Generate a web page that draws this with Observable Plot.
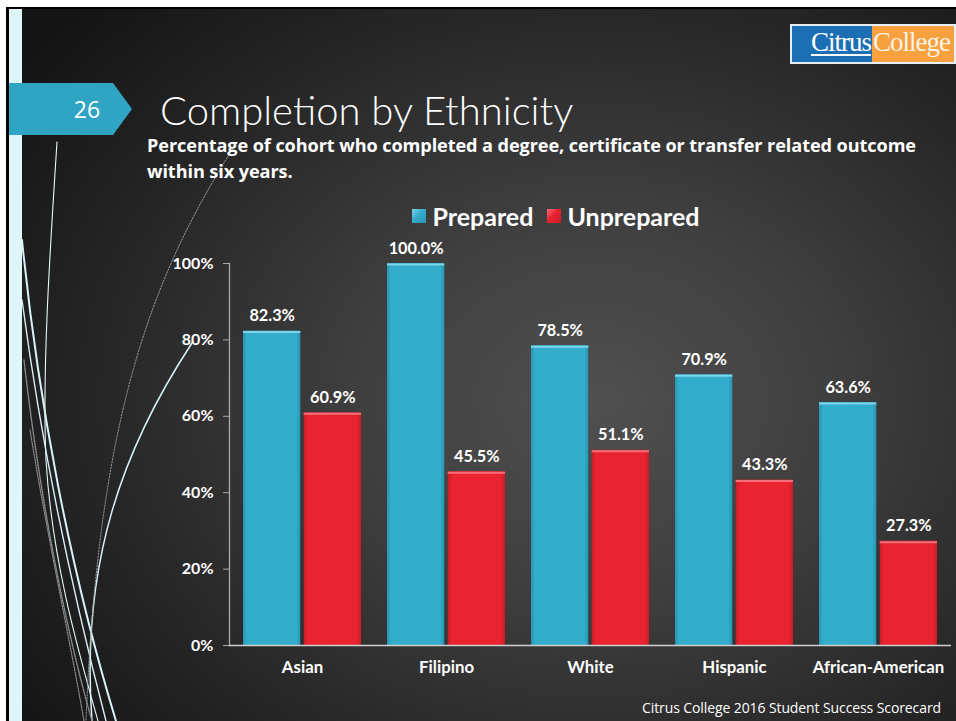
<!DOCTYPE html>
<html>
<head>
<meta charset="utf-8">
<script src="https://cdn.jsdelivr.net/npm/d3@7"></script>
<script src="https://cdn.jsdelivr.net/npm/@observablehq/plot@0.6"></script>
<style>
  html, body { margin: 0; padding: 0; background: #fff; }
  #page { position: relative; width: 956px; height: 721px; overflow: hidden; background: #fff; font-family: Lato, "Open Sans", sans-serif; }
  #slide { position: absolute; left: 6px; top: 7px; right: 0; bottom: 0;
    background: radial-gradient(ellipse 75% 80% at 62% 55%, #505050 0%, #3e3e3e 35%, #262626 70%, #141414 100%);
    border-left: 3px solid #000; border-top: 2px solid #000; }
  #strip { position: absolute; left: 9px; top: 9px; width: 13px; bottom: 0; background: #def5f9; }
  #decor { position: absolute; left: 0; top: 0; }
  #title { position: absolute; left: 160px; top: 88px; font-size: 40px; font-weight: 300; color: #fff; line-height: 44px; white-space: nowrap; }
  #subtitle { position: absolute; left: 147px; top: 132px; width: 795px; font-family: "Open Sans", Lato, sans-serif; font-size: 18.15px; font-weight: bold; color: #fff; line-height: 26px; letter-spacing: -0.1px; }
  #legend { position: absolute; left: 0; top: 201px; width: 956px; display: flex; justify-content: center; padding-left: 156px; box-sizing: border-box; color: #fff; font-weight: bold; font-size: 25px; line-height: 30px; }
  #legend .item { display: flex; align-items: center; margin: 0 7px; }
  #legend .sw { width: 14px; height: 14px; margin-right: 6px; }
  #chart { position: absolute; left: 0; top: 230px; }
  #footer { position: absolute; right: 15px; top: 698px; color: #fff; font-size: 14px; font-family: "Open Sans", Lato, sans-serif; letter-spacing: -0.1px; }
  #logo { position: absolute; left: 790px; top: 24px; width: 166px; height: 40px; box-sizing: border-box; border: 2px solid #e8eef5; display: flex; font-family: "Liberation Serif", serif; font-size: 27px; line-height: 33px; letter-spacing: -1px; }
  #logo .a { background: #1c6fb5; color: #fff; width: 80px; text-align: right; padding-right: 1px; box-sizing: border-box; }
  #logo .a span { text-decoration: underline; text-decoration-thickness: 2px; text-underline-offset: 3px; }
  #logo .b { background: #f7a03e; color: #fdf3e6; flex: 1; text-align: left; padding-left: 1px; }
  #badge { position: absolute; left: 0; top: 0; }
</style>
</head>
<body>
<div id="page">
  <div id="slide"></div>
  <div id="strip"></div>
  <svg id="decor" width="956" height="721">
    <g fill="none" stroke-linecap="round">
      <path d="M57,142 C50,250 42,370 46,460 C52,560 78,650 98,721" stroke="#e8f8fb" stroke-width="1.1"/>
      <path d="M22,240 C38,400 70,570 116,721" stroke="#d8f3f8" stroke-width="2"/>
      <path d="M22,300 C42,450 72,590 106,721" stroke="#d8f3f8" stroke-width="1.4"/>
      <path d="M192,343 C125,445 80,560 92,721" stroke="#d8f3f8" stroke-width="1.5"/>
      <path d="M232,150 C150,280 98,420 86,721" stroke="#9a9a9a" stroke-width="1" stroke-dasharray="1.5,1.5"/>
      <path d="M24,360 C40,500 66,630 92,721" stroke="#8a8a8a" stroke-width="1.4" stroke-dasharray="1.5,1.2"/>
      <path d="M30,430 C48,540 70,640 84,721" stroke="#8a8a8a" stroke-width="1.2" stroke-dasharray="1.5,1.2"/>
    </g>
  </svg>
  <svg id="badge" width="140" height="140">
    <polygon points="9,83 113,83 132,109 113,135 9,135" fill="#2fa4c3"/>
    <text x="87" y="118" fill="#fff" font-family="'Open Sans', Lato, sans-serif" font-size="23" text-anchor="middle">26</text>
  </svg>
  <div id="logo"><div class="a"><span>Citrus</span></div><div class="b">College</div></div>
  <div id="title">Completion by Ethnicity</div>
  <div id="subtitle">Percentage of cohort who completed a degree, certificate or transfer related outcome within six years.</div>
  <div id="legend"></div>
  <div id="chart"></div>
  <div id="footer">Citrus College 2016 Student Success Scorecard</div>
</div>
<script>
// ---- data ----
const categories = ["Asian", "Filipino", "White", "Hispanic", "African-American"];
const seriesNames = ["Prepared", "Unprepared"];
const prepared = [82.3, 100.0, 78.5, 70.9, 63.6];
const unprepared = [60.9, 45.5, 51.1, 43.3, 27.3];
const yTicks = [0, 20, 40, 60, 80, 100];

const seriesColors = {
  Prepared: {edge: "#2894b2", mid: "#33adcb", top: "#7fd4e8"},
  Unprepared: {edge: "#c51d27", mid: "#e9232f", top: "#f5707a"}
};

const rows = categories.flatMap((c, i) => [
  {category: c, series: "Prepared", value: prepared[i]},
  {category: c, series: "Unprepared", value: unprepared[i]}
]);
const prepRows = rows.filter(d => d.series === "Prepared");
const unprepRows = rows.filter(d => d.series === "Unprepared");

// ---- layout ----
const W = 956, H = 470;
const mL = 229, mR = 5, mT = 33, mB = 55;
const padIn = 0.18, padOut = 0.09;
const step = (W - mL - mR) / (categories.length - padIn + 2 * padOut);
const bw = step * (1 - padIn);
const gap = 3;
const barW = (bw - gap) / 2;
const inset = bw - barW;
const off = bw / 2 - barW / 2;

const labelFmt = d => d.value.toFixed(1) + "%";
const font = "Lato, 'Open Sans', sans-serif";

const chart = Plot.plot({
  width: W, height: H,
  marginLeft: mL, marginRight: mR, marginTop: mT, marginBottom: mB,
  style: {background: "transparent", color: "#fff", fontFamily: font, fontSize: "16px", fontWeight: "bold", overflow: "visible"},
  x: {domain: categories, paddingInner: padIn, paddingOuter: padOut, label: null},
  y: {domain: [0, 100], label: null},
  marks: [
    Plot.frame({anchor: "left", stroke: "#a9a9a9", strokeWidth: 1.3}),
    Plot.barY(prepRows, {x: "category", y: "value", fill: "url(#gPrep)", insetRight: inset}),
    Plot.barY(unprepRows, {x: "category", y: "value", fill: "url(#gUnprep)", insetLeft: inset}),
    Plot.tickY(prepRows, {x: "category", y: "value", stroke: seriesColors.Prepared.top, strokeWidth: 2, dy: 1, insetRight: inset}),
    Plot.tickY(unprepRows, {x: "category", y: "value", stroke: seriesColors.Unprepared.top, strokeWidth: 2, dy: 1, insetLeft: inset}),
    Plot.ruleY([0], {stroke: "#d0d0d0", strokeWidth: 1.3}),
    Plot.text(prepRows, {x: "category", y: "value", text: labelFmt, dx: -off, dy: -10, lineAnchor: "bottom", fill: "#fff", fontSize: 16.3, fontWeight: "bold"}),
    Plot.text(unprepRows, {x: "category", y: "value", text: labelFmt, dx: off, dy: -10, lineAnchor: "bottom", fill: "#fff", fontSize: 16.3, fontWeight: "bold"}),
    Plot.axisY({ticks: yTicks, tickFormat: d => d + "%", tickSize: 6, tickPadding: 10, stroke: "#a9a9a9", fill: "#fff", fontSize: 16, fontWeight: "bold", label: null}),
    Plot.axisX({tickSize: 0, tickPadding: 16, fill: "#fff", fontSize: 16.8, fontWeight: "bold", label: null})
  ]
});

// gradients for the bevelled bar look
const defs = d3.select(chart).insert("defs", ":first-child");
function grad(id, c) {
  const g = defs.append("linearGradient").attr("id", id).attr("x1", "0").attr("x2", "1").attr("y1", "0").attr("y2", "0");
  g.append("stop").attr("offset", "0%").attr("stop-color", c.edge);
  g.append("stop").attr("offset", "7%").attr("stop-color", c.mid);
  g.append("stop").attr("offset", "93%").attr("stop-color", c.mid);
  g.append("stop").attr("offset", "100%").attr("stop-color", c.edge);
}
grad("gPrep", seriesColors.Prepared);
grad("gUnprep", seriesColors.Unprepared);
document.getElementById("chart").appendChild(chart);

// legend
const legend = d3.select("#legend");
seriesNames.forEach(s => {
  const c = seriesColors[s];
  const item = legend.append("div").attr("class", "item");
  item.append("div").attr("class", "sw")
    .style("background", `linear-gradient(135deg, ${c.top} 0%, ${c.mid} 45%, ${c.edge} 100%)`);
  item.append("span").text(s);
});
</script>
</body>
</html>
